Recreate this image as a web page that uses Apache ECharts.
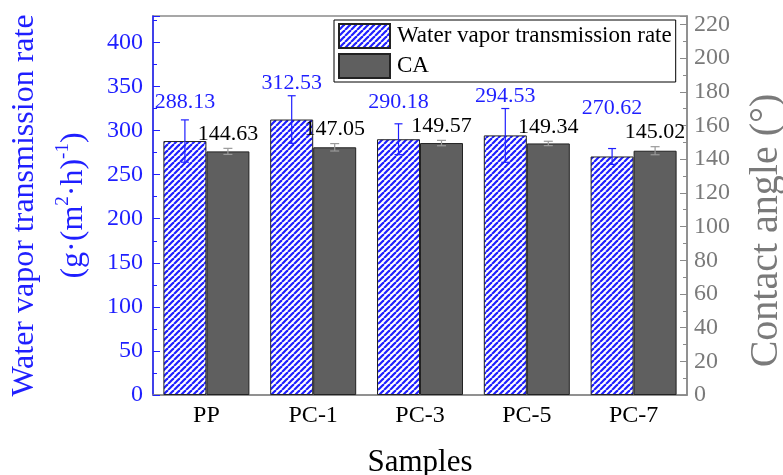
<!DOCTYPE html>
<html>
<head>
<meta charset="utf-8">
<script src="https://cdn.jsdelivr.net/npm/echarts@6/dist/echarts.min.js"></script>
<style>
  html, body { margin: 0; padding: 0; background: #fff; }
  #chart { width: 783px; height: 475px; }
</style>
</head>
<body>
<div id="chart"></div>
<script>
// data
const samples = ['PP', 'PC-1', 'PC-3', 'PC-5', 'PC-7']
const wvtr = [288.13, 312.53, 290.18, 294.53, 270.62]
const wvtrErr = [24, 27, 17.5, 30.5, 9]
const contactAngle = [144.63, 147.05, 149.57, 149.34, 145.02]
const caErr = [1.8, 2.2, 1.6, 1.3, 2.4]

// layout tweaks for value labels (px above the error bar top)
const wvtrLabelLift = [18, 13, 22, 12, 40]
const caLabelLift = 14

const BLUE = '#1f1fff'
const GRAY = '#7a7a7a'
const FONT = '"Liberation Serif", "Times New Roman", serif'
const BAR_W = 43

// blue diagonal hatch
function hatch() {
  const s = 6
  const c = document.createElement('canvas')
  c.width = s
  c.height = s
  const ctx = c.getContext('2d')
  ctx.fillStyle = '#fff'
  ctx.fillRect(0, 0, s, s)
  ctx.strokeStyle = BLUE
  ctx.lineWidth = 2.2
  ;[-s, 0, s].forEach(k => {
    ctx.beginPath()
    ctx.moveTo(k, s)
    ctx.lineTo(k + s, 0)
    ctx.stroke()
  })
  return c
}

function errorBars(side, color, capW, labelColor, lift) {
  return function (params, api) {
    const i = api.value(0)
    const v = api.value(1)
    const e = api.value(2)
    const x = api.coord([i, 0])[0] + side * BAR_W / 2
    const top = api.coord([i, v + e])[1]
    const bot = api.coord([i, v - e])[1]
    const st = { stroke: color, lineWidth: 1.2 }
    const l = typeof lift === 'number' ? lift : lift[params.dataIndex]
    return {
      type: 'group',
      children: [
        { type: 'line', shape: { x1: x, y1: top, x2: x, y2: bot }, style: st },
        { type: 'line', shape: { x1: x - capW, y1: top, x2: x + capW, y2: top }, style: st },
        { type: 'line', shape: { x1: x - capW, y1: bot, x2: x + capW, y2: bot }, style: st },
        {
          type: 'text',
          x: x,
          y: top - l,
          style: {
            text: v.toFixed(2),
            fill: labelColor,
            font: '22px ' + FONT,
            align: 'center',
            verticalAlign: 'middle'
          }
        }
      ]
    }
  }
}

const chart = echarts.init(document.getElementById('chart'))

const option = {
  backgroundColor: '#fff',
  animation: false,
  textStyle: { fontFamily: FONT },
  grid: {
    left: 153, right: 96, top: 16, bottom: 80,
    containLabel: false,
    outerBoundsMode: 'none',
    show: true, borderColor: '#8a8a8a', borderWidth: 1.5
  },
  legend: {
    orient: 'vertical',
    left: 334, top: 20,
    padding: [3, 4, 3, 4],
    itemGap: 4,
    itemWidth: 51,
    itemHeight: 24,
    backgroundColor: '#fff',
    borderColor: '#000',
    borderWidth: 1,
    textStyle: { fontFamily: FONT, fontSize: 23, color: '#000', padding: [0, 0, 0, 2] },
    data: [
      { name: 'Water vapor transmission rate', icon: 'rect' },
      { name: 'CA', icon: 'rect' }
    ]
  },
  xAxis: {
    type: 'category',
    data: samples,
    name: 'Samples',
    nameLocation: 'middle',
    nameGap: 52,
    nameTextStyle: { fontFamily: FONT, fontSize: 31, color: '#000' },
    axisLine: { lineStyle: { color: '#8a8a8a', width: 1.5 } },
    axisTick: { show: false },
    axisLabel: { fontFamily: FONT, fontSize: 24, color: '#000', margin: 9 }
  },
  yAxis: [
    {
      type: 'value',
      min: 0, max: 430, interval: 50,
      name: '{a|Water vapor transmission rate}\n{a|(g·(m}{s|2}{a|·h)}{s|-1}{a|)}',
      nameLocation: 'middle',
      nameRotate: 90,
      nameGap: 55,
      nameTextStyle: {
        color: BLUE,
        rich: {
          a: { fontFamily: FONT, fontSize: 32, color: BLUE, lineHeight: 49 },
          s: { fontFamily: FONT, fontSize: 19, color: BLUE, padding: [0, 0, 20, 0] }
        }
      },
      axisLine: { show: true, lineStyle: { color: BLUE, width: 1.5 } },
      axisTick: { show: true, inside: true, length: 7, lineStyle: { color: BLUE } },
      minorTick: { show: true, splitNumber: 2, length: 4, lineStyle: { color: BLUE } },
      axisLabel: { fontFamily: FONT, fontSize: 24, color: BLUE, margin: 10, showMaxLabel: false },
      splitLine: { show: false }
    },
    {
      type: 'value',
      min: 0, max: 225, interval: 20,
      position: 'right',
      name: 'Contact angle (°)',
      nameLocation: 'middle',
      nameRotate: 90,
      nameGap: 59,
      nameTextStyle: { fontFamily: FONT, fontSize: 40, color: GRAY, padding: [0, 50, 0, 0] },
      axisLine: { show: true, lineStyle: { color: '#8a8a8a', width: 1.5 } },
      axisTick: { show: true, inside: true, length: 7, lineStyle: { color: '#8a8a8a' } },
      minorTick: { show: true, splitNumber: 2, length: 4, lineStyle: { color: '#8a8a8a' } },
      axisLabel: { fontFamily: FONT, fontSize: 24, color: GRAY, margin: 7, showMaxLabel: false },
      splitLine: { show: false }
    }
  ],
  series: [
    {
      name: 'Water vapor transmission rate',
      type: 'bar',
      yAxisIndex: 0,
      barWidth: BAR_W,
      barGap: '0%',
      data: wvtr,
      itemStyle: {
        color: { image: hatch(), repeat: 'repeat' },
        borderColor: '#222',
        borderWidth: 1
      }
    },
    {
      name: 'CA',
      type: 'bar',
      yAxisIndex: 1,
      barWidth: BAR_W,
      barGap: '0%',
      data: contactAngle,
      itemStyle: { color: '#5f5f5f', borderColor: '#222', borderWidth: 1 }
    },
    {
      type: 'custom',
      yAxisIndex: 0,
      z: 5,
      renderItem: errorBars(-1, BLUE, 4, BLUE, wvtrLabelLift),
      data: wvtr.map((v, i) => [i, v, wvtrErr[i]])
    },
    {
      type: 'custom',
      yAxisIndex: 1,
      z: 5,
      renderItem: errorBars(1, '#9a9a9a', 4.5, '#000', caLabelLift),
      data: contactAngle.map((v, i) => [i, v, caErr[i]])
    }
  ]
}

chart.setOption(option)
</script>
</body>
</html>
